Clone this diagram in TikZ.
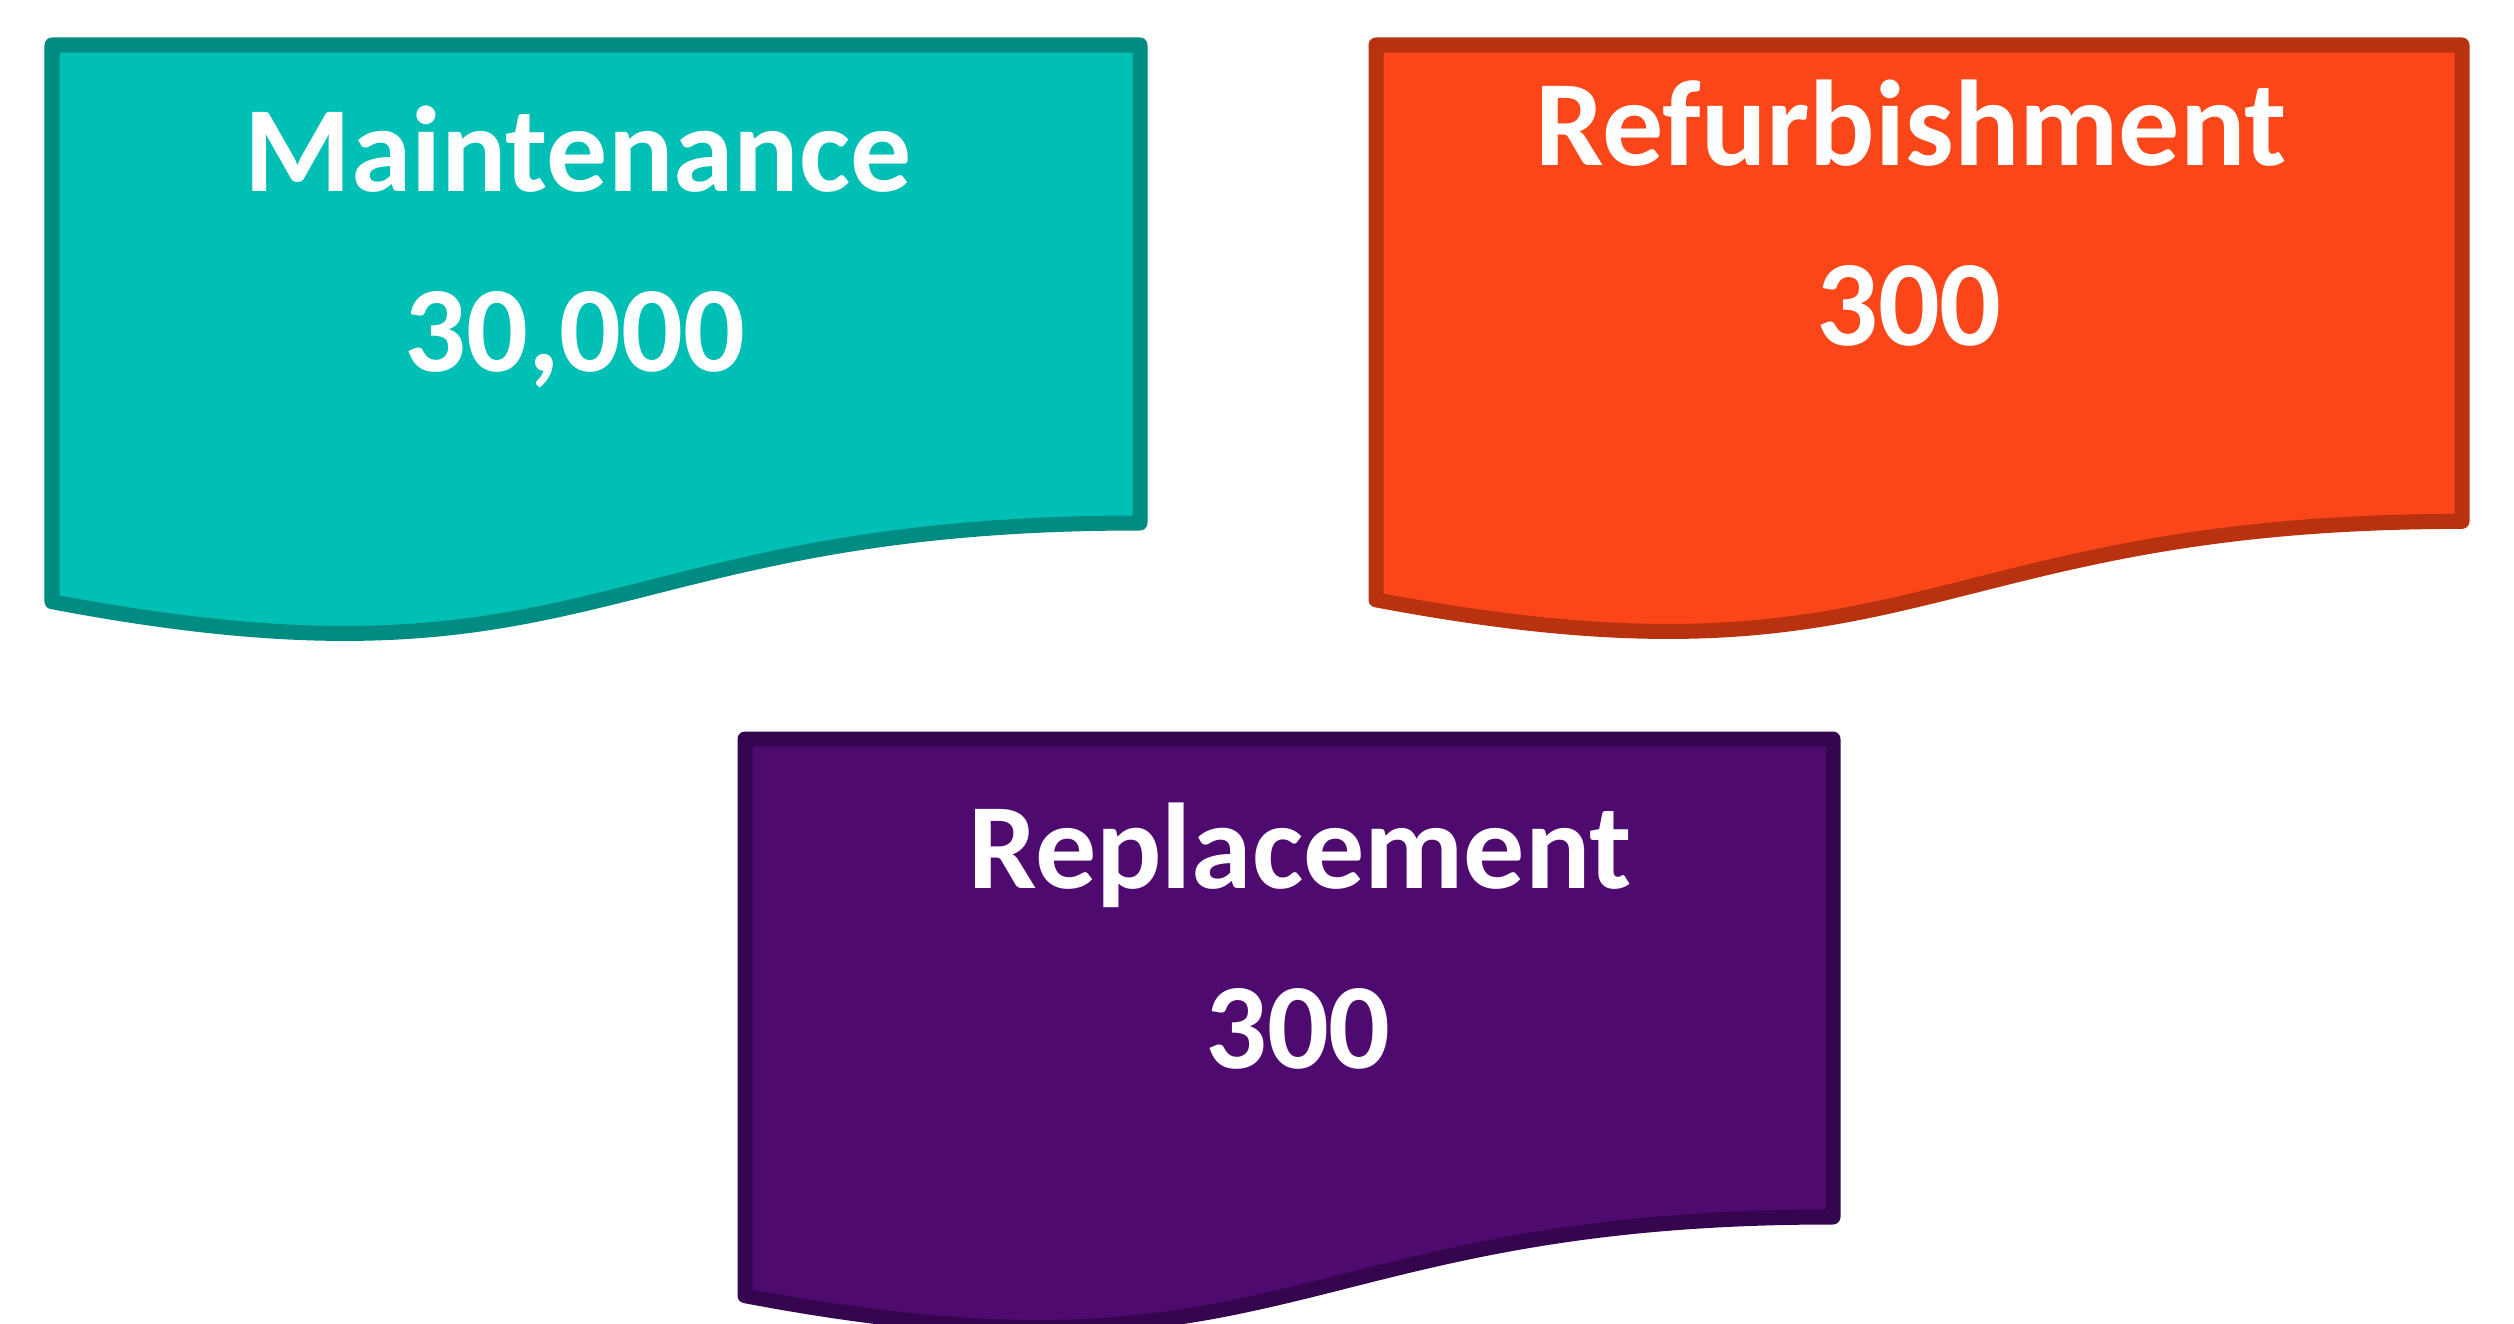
\documentclass[tikz,border=0pt]{standalone}
\usepackage{fontspec}
\setmainfont{Carlito}
\definecolor{tealfill}{RGB}{0,191,180}
\definecolor{tealline}{RGB}{0,140,130}
\definecolor{orangefill}{RGB}{250,70,25}
\definecolor{orangeline}{RGB}{185,50,15}
\definecolor{purplefill}{RGB}{79,10,112}
\definecolor{purpleline}{RGB}{54,5,80}
\tikzset{
  docshape/.style={line width=0.15cm, line join=round},
  lbl/.style={text=white, font=\fontsize{34.7pt}{40pt}\selectfont\bfseries, anchor=base, inner sep=0pt}
}
% document shape: left x, top y, width, height
\newcommand{\docpath}[4]{%
  (#1,#2) -- ++(#3,0) -- ++(0,{0.802*#4})
  .. controls ({#1+0.5*#3},{#2+0.802*#4}) and ({#1+0.5*#3},{#2+1.1074*#4}) ..
  (#1,{#2+0.934*#4}) -- cycle}
\begin{document}
\begin{tikzpicture}[x=0.01cm,y=-0.01cm]
\useasboundingbox (0,0) rectangle (2514,1324);
\clip (0,0) rectangle (2514,1324);
\fill[white] (0,0) rectangle (2514,1324);
\draw[docshape, fill=tealfill, draw=tealline] \docpath{52}{45}{1088}{596};
\draw[docshape, fill=orangefill, draw=orangeline] \docpath{1376}{45}{1086}{594};
\draw[docshape, fill=purplefill, draw=purpleline] \docpath{745}{739}{1088}{596};
\node[lbl] (mt) at (578,191) {Maintenance};
\node[lbl] (mn) at (575,371) {30,000};
\node[lbl] (rt) at (1911,165) {Refurbishment};
\node[lbl] (rn) at (1909,345) {300};
\node[lbl] (pt) at (1300,888) {Replacement};
\node[lbl] (pn) at (1298,1068) {300};
\end{tikzpicture}
\end{document}
